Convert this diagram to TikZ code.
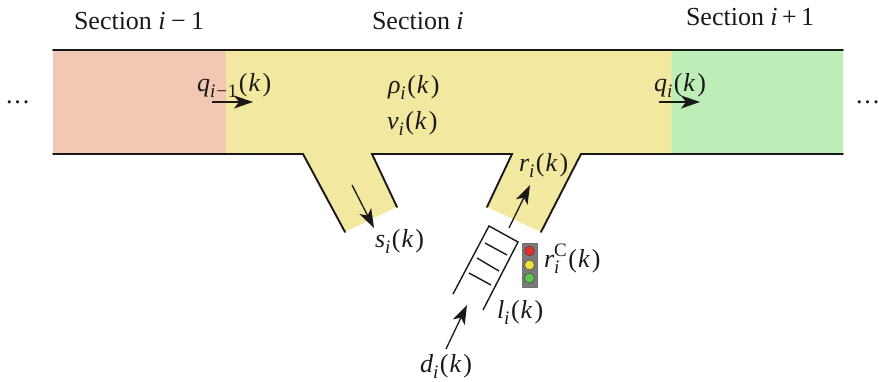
\documentclass[tikz,border=0pt]{standalone}
\usepackage{fontspec}
\setmainfont{Liberation Serif}
\usetikzlibrary{arrows.meta}
\definecolor{roadyellow}{HTML}{F3E8A0}
\definecolor{roadred}{HTML}{F2C8B4}
\definecolor{roadgreen}{HTML}{BDEEB8}
\newcommand{\sbs}[1]{\raisebox{-0.24em}{\fontsize{19}{19}\selectfont\itshape #1}}
\newcommand{\flow}[2]{\textit{#1}\sbs{#2}\kern1.5pt(\kern1pt\textit{k}\kern2pt)}
\tikzset{
  x=1pt,y=-1pt,
  lbl/.style={anchor=base west,inner sep=0pt,outer sep=0pt,font=\fontsize{26}{30}\selectfont,text=black!90},
  road/.style={line width=1.9pt,black!90,line cap=round,line join=miter},
  flowarrow/.style={line width=1.3pt,black!90,-{Stealth[length=19pt,width=13pt,inset=5pt]}},
  rung/.style={line width=1.4pt,black!90},
  bulb/.style={circle,draw=black!70,line width=0.6pt,minimum size=10pt,inner sep=0pt},
}
\begin{document}
\begin{tikzpicture}
\useasboundingbox (0,0) rectangle (879,381);
% coloured road
\fill[roadred] (53,50) rectangle (226.5,154);
\fill[roadgreen] (671,50) rectangle (843,154);
\fill[roadyellow] (226,50) -- (671.5,50) -- (671.5,154) -- (581,154) -- (541,232) -- (487,207) -- (512,154)
  -- (372,154) -- (397,207) -- (345,232) -- (303,154) -- (226,154) -- cycle;
% road edges
\coordinate (tl) at (53,50); \coordinate (tr) at (843,50);
\coordinate (bl) at (53,154); \coordinate (br) at (843,154);
\coordinate (offa) at (303,154); \coordinate (offb) at (345,232);
\coordinate (offc) at (372,154); \coordinate (offd) at (397,207);
\coordinate (ona) at (512,154); \coordinate (onb) at (487,207);
\coordinate (onc) at (581,154); \coordinate (ond) at (541,232);
\draw[road] (tl) -- (tr);
\draw[road] (bl) -- (offa) -- (offb);
\draw[road] (offd) -- (offc) -- (ona) -- (onb);
\draw[road] (ond) -- (onc) -- (br);
% queue
\coordinate (qa) at (453,294); \coordinate (qb) at (489,226);
\coordinate (qc) at (518,242); \coordinate (qd) at (483,310);
\draw[rung,line join=miter] (qa) -- (qb) -- (qc) -- (qd);
\coordinate (r1a) at (485,243); \coordinate (r1b) at (507,255);
\coordinate (r2a) at (477,258); \coordinate (r2b) at (499,271);
\coordinate (r3a) at (469,273); \coordinate (r3b) at (491,285);
\draw[rung] (r1a) -- (r1b);
\draw[rung] (r2a) -- (r2b);
\draw[rung] (r3a) -- (r3b);
% traffic light
\node[draw=black!55,fill=black!52,line width=0.7pt,minimum width=15pt,minimum height=44pt,inner sep=0pt] (light) at (529.5,265) {};
\node[bulb,fill={rgb,255:red,232;green,48;blue,42}] (lr) at (529.5,251) {};
\node[bulb,fill={rgb,255:red,236;green,224;blue,58}] (ly) at (529.5,265) {};
\node[bulb,fill={rgb,255:red,92;green,200;blue,74}] (lg) at (529.5,278) {};
% arrows
\coordinate (a1s) at (212,102); \coordinate (a1e) at (253,102);
\coordinate (a2s) at (659,102); \coordinate (a2e) at (700,102);
\coordinate (a3s) at (352,185); \coordinate (a3e) at (374,228);
\coordinate (a4s) at (509,228); \coordinate (a4e) at (530,185);
\coordinate (a5s) at (446,349); \coordinate (a5e) at (467,305);
\draw[flowarrow] (a1s) -- (a1e);
\draw[flowarrow] (a2s) -- (a2e);
\draw[flowarrow] (a3s) -- (a3e);
\draw[flowarrow] (a4s) -- (a4e);
\draw[flowarrow] (a5s) -- (a5e);
% labels
\node[lbl] (s1) at (74,29) {Section \textit{i}\,\kern1pt−\kern1pt\,1};
\node[lbl] (s2) at (372,29) {Section \textit{i}};
\node[lbl] (s3) at (686,25) {Section \textit{i}\,+\,1};
\node[lbl] (d1) at (6,103) {.\kern2pt.\kern2pt.};
\node[lbl] (d2) at (856,103) {.\kern2pt.\kern2pt.};
\node[lbl] (q1) at (197,91) {\textit{q}\raisebox{-0.24em}{\fontsize{19}{19}\selectfont\textit{i}\kern1pt−\kern1pt1}\kern1.5pt(\kern1pt\textit{k}\kern2pt)};
\node[lbl] (rho) at (388,93) {\flow{ρ}{i}};
\node[lbl] (v) at (387,129) {\flow{v}{i}};
\node[lbl] (q2) at (654,91) {\flow{q}{i}};
\node[lbl] (r) at (519,171) {\flow{r}{i}};
\node[lbl] (s) at (375,247) {\flow{s}{i}};
\node[lbl] (rc) at (544,267) {\textit{r}\rlap{\sbs{i}}\raisebox{0.42em}{\fontsize{19}{19}\selectfont C}\kern1.5pt(\kern1pt\textit{k}\kern2pt)};
\node[lbl] (l) at (497,318) {\flow{l}{i}};
\node[lbl] (dd) at (420,372) {\flow{d}{i}};
\end{tikzpicture}
\end{document}
